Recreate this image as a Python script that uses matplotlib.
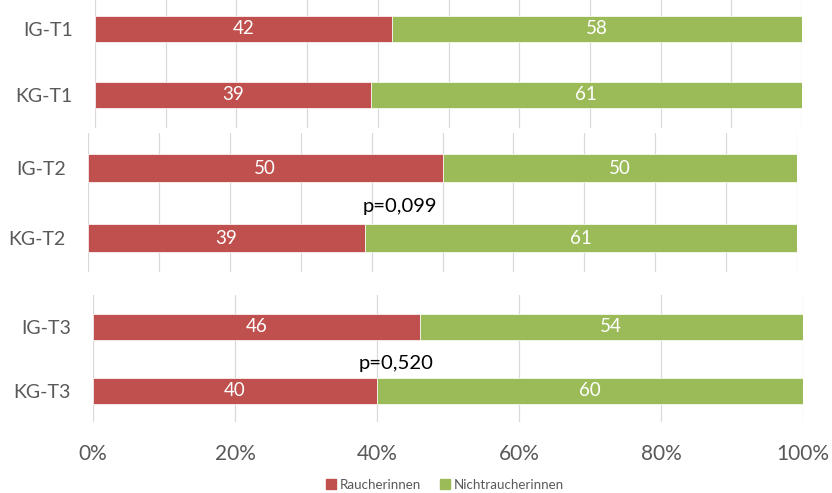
import numpy as np
import matplotlib.pyplot as plt
from matplotlib.patches import Patch

plt.rcParams['font.family'] = ['Lato', 'DejaVu Sans']

W, H = 832, 493
DPI = 100

gruppen = [["IG-T1", "KG-T1"], ["IG-T2", "KG-T2"], ["IG-T3", "KG-T3"]]
raucher = [[42, 39], [50, 39], [46, 40]]
nichtraucher = [[58, 61], [50, 61], [54, 60]]
p_werte = [None, "p=0,099", "p=0,520"]

rot = "#C0504D"
gruen = "#9BBB59"
grau = "#595959"
gitter = "#D9D9D9"

# pixel boxes of the three panels: x0, x100, y_top, y_bottom, bar centres (IG, KG), bar height, grid step
panels = [
    (95, 802, 0, 128, 29, 95, 26, 10),
    (88, 797, 133, 272, 168, 238, 28, 10),
    (93, 803, 295, 422, 327, 390.5, 26, 20),
]
p_pos = [None, (44, 206.5), (42.7, 364)]

fig = plt.figure(figsize=(W / DPI, H / DPI), dpi=DPI)

for i, (x0, x1, yt, yb, c_ig, c_kg, bh, step) in enumerate(panels):
    ax = fig.add_axes([x0 / W, (H - yb) / H, (x1 - x0) / W, (yb - yt) / H])
    sep = c_kg - c_ig
    ax.set_xlim(0, 100)
    ax.set_ylim(-(yb - c_kg) / sep, 1 + (c_ig - yt) / sep)
    pos = [1, 0]
    hoehe = bh / sep
    r = np.array(raucher[i])
    n = np.array(nichtraucher[i])
    ax.barh(pos, r, height=hoehe, color=rot, edgecolor="white", lw=0.5, zorder=3)
    ax.barh(pos, n, left=r, height=hoehe, color=gruen, edgecolor="white", lw=0.5, zorder=3)
    for y, a, b in zip(pos, r, n):
        ax.text(a / 2, y, str(a), color="white", fontsize=13.5, ha="center", va="center", zorder=4)
        ax.text(a + b / 2, y, str(b), color="white", fontsize=13.5, ha="center", va="center", zorder=4)
    for gx in np.arange(0, 101, step):
        ax.axvline(gx, color=gitter, lw=0.9, zorder=1)
    ax.set_yticks(pos)
    ax.set_yticklabels(gruppen[i], fontsize=14, color=grau)
    ax.tick_params(axis="y", length=0, pad=16)
    for s in ax.spines.values():
        s.set_visible(False)
    if i == 2:
        ax.set_xticks(np.arange(0, 101, 20))
        ax.set_xticklabels([f"{v}%" for v in range(0, 101, 20)], fontsize=15, color=grau)
        ax.tick_params(axis="x", length=0, pad=16)
    else:
        ax.set_xticks([])
    if p_werte[i]:
        px, py = p_pos[i]
        ax.text(px, (c_kg - py) / sep, p_werte[i], fontsize=14.6, color="black",
                ha="center", va="center", zorder=4)

handles = [Patch(color=rot, label="Raucherinnen"), Patch(color=gruen, label="Nichtraucherinnen")]
fig.legend(handles=handles, loc="center", bbox_to_anchor=(445 / W, (H - 485) / H), ncol=2,
           frameon=False, fontsize=9.6, handlelength=0.75, handleheight=0.75,
           handletextpad=0.3, columnspacing=1.4, labelcolor=grau)

fig.savefig("out.png", dpi=DPI)
